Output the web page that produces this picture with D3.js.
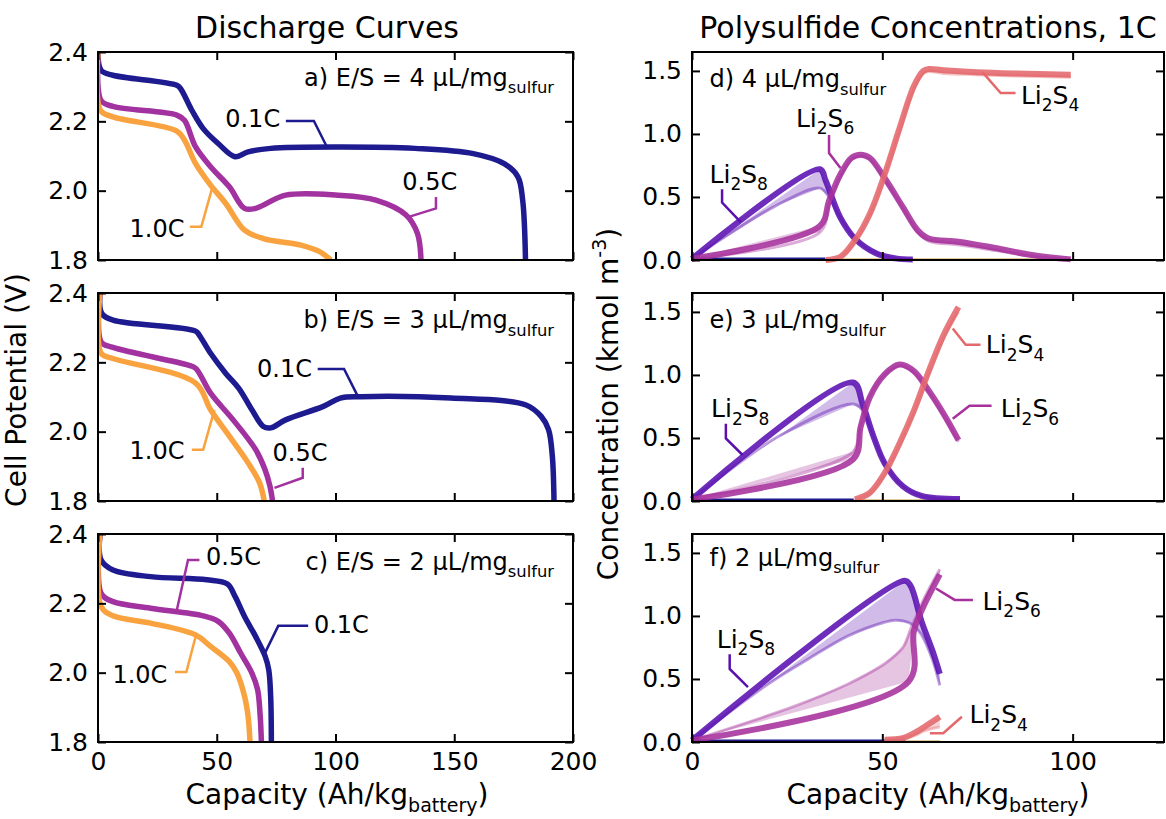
<!DOCTYPE html>
<html>
<head>
<meta charset="utf-8">
<script src="https://cdn.jsdelivr.net/npm/d3@7"></script>
<style>
  body { margin: 0; background: #fff; }
  svg text { font-family: "DejaVu Sans", sans-serif; fill: #000; }
</style>
</head>
<body>
<div id="chart"></div>
<script>
// ---------- discharge curves: [capacity (Ah/kg), potential (V)] ----------
const rates = ["0.1C", "0.5C", "1.0C"];

const es4_01C = [[0,2.40],[1.3,2.347],[6.3,2.333],[33.2,2.304],[34.8,2.294],[39.5,2.232],[44.3,2.179],[50.6,2.136],[57.7,2.098],[63.2,2.112],[72.7,2.122],[101,2.126],[133.5,2.122],[158,2.107],[171,2.078],[176.8,2.04],[178.8,1.973],[180,1.80]];
const es4_05C = [[0,2.395],[1.3,2.26],[6.3,2.243],[33.2,2.218],[36.4,2.203],[41.1,2.126],[47.4,2.069],[55.3,2.011],[61.7,1.949],[66.4,1.949],[79,1.987],[101,1.987],[117,1.973],[129.7,1.93],[134.5,1.877],[136,1.80]];
const es4_10C = [[0,2.40],[1,2.232],[6.3,2.213],[33.2,2.172],[36.4,2.146],[41.1,2.078],[47.4,2.016],[53.8,1.963],[61.7,1.886],[69.6,1.862],[85.4,1.843],[93.3,1.824],[98,1.80]];

const es3_01C = [[0.8,2.40],[1.6,2.341],[6.3,2.322],[41.1,2.29],[42.7,2.278],[47.4,2.226],[53.8,2.168],[59.3,2.125],[64.8,2.063],[69.6,2.015],[72.7,2.011],[79,2.034],[94.9,2.073],[102,2.097],[110.7,2.101],[148.6,2.097],[180.2,2.077],[186.6,2.044],[189.7,2.006],[191.3,1.929],[192,1.80]];
const es3_05C = [[0.8,2.40],[1.3,2.259],[6.3,2.243],[38,2.192],[41.1,2.183],[47.4,2.111],[56.9,2.034],[66.4,1.948],[70.3,1.891],[72.4,1.843],[73.5,1.80]];
const es3_10C = [[0.8,2.40],[1.3,2.226],[6.3,2.211],[41.1,2.14],[47.4,2.063],[55.3,1.987],[63.2,1.91],[68,1.853],[70,1.80]];

const es2_01C = [[0.8,2.40],[1.3,2.325],[6.3,2.296],[22.1,2.277],[45.8,2.268],[54.5,2.256],[57.7,2.22],[61.7,2.162],[66.4,2.104],[70.4,2.047],[71.9,2.008],[72.7,1.932],[73,1.80]];
const es2_05C = [[0.8,2.40],[1.3,2.229],[6.3,2.205],[22.1,2.186],[44.3,2.164],[50.6,2.148],[55.3,2.114],[60.1,2.056],[64.8,1.999],[67.2,1.951],[68.3,1.874],[68.8,1.80]];
const es2_10C = [[0.8,2.40],[1.3,2.191],[6.3,2.164],[22.1,2.143],[41.1,2.109],[47.4,2.076],[55.3,2.032],[58.5,1.999],[61.7,1.932],[63.2,1.874],[64,1.80]];

// curve labels with leader lines, in data units
const es4_labels = [
  {t: "0.1C", x: 76.7, y: 2.184, a: "end", s: 0, lead: [[79.1,2.201],[90.9,2.201],[96.4,2.126]]},
  {t: "0.5C", x: 128.1, y: 2.002, a: "start", s: 1, lead: [[142.3,1.982],[142.3,1.949],[131.2,1.925]]},
  {t: "1.0C", x: 36.4, y: 1.867, a: "end", s: 2, lead: [[38.7,1.896],[43.5,1.896],[48.2,2.011]]}
];
const es3_labels = [
  {t: "0.1C", x: 90.1, y: 2.159, a: "end", s: 0, lead: [[92.5,2.181],[103.6,2.181],[109.1,2.106]]},
  {t: "0.5C", x: 73.5, y: 1.915, a: "start", s: 1, lead: [[86.2,1.896],[86.2,1.867],[74.3,1.838]]},
  {t: "1.0C", x: 36.4, y: 1.92, a: "end", s: 2, lead: [[39.5,1.948],[44.3,1.948],[49,2.063]]}
];
const es2_labels = [
  {t: "0.5C", x: 45.5, y: 2.311, a: "start", s: 1, lead: [[42.7,2.325],[37.9,2.325],[33.2,2.181]]},
  {t: "0.1C", x: 90.9, y: 2.114, a: "start", s: 0, lead: [[88.5,2.135],[75.9,2.135],[69.6,2.047]]},
  {t: "1.0C", x: 29.2, y: 1.97, a: "end", s: 2, lead: [[32.4,2.002],[37.2,2.002],[41.1,2.104]]}
];

// ---------- polysulfide concentrations at 1C: [capacity, kmol/m3] ----------
// each species is a bundle of curves: edge A (dense) and edge B (faint) of the bundle
const species = ["Li_{2}S_{8}", "Li_{2}S_{6}", "Li_{2}S_{4}"];

const c4_S8a = [[0,0.01],[33.6,0.72],[35.1,0.63],[38.9,0.34],[42.8,0.17],[48.6,0.05],[53.5,0.013],[58,0.003]];
const c4_S8b = [[0,0.01],[22,0.43],[33.6,0.57],[36,0.5],[38.9,0.34],[42.8,0.17],[48.6,0.05],[53.5,0.013],[58,0.003]];
const c4_S6a = [[0,0.01],[33.6,0.27],[36,0.47],[39,0.68],[41.9,0.81],[44.3,0.835],[46.7,0.81],[50.6,0.65],[55.4,0.42],[59.3,0.235],[62.2,0.17],[70,0.145],[79.7,0.095],[89.3,0.04],[99.5,0.005]];
const c4_S6b = [[0,0.01],[33.6,0.22],[36,0.44],[39,0.66],[41.9,0.8],[44.3,0.825],[46.7,0.8],[50.6,0.64],[55.4,0.41],[59.3,0.22],[62.2,0.15],[70,0.12],[79.7,0.075],[89.3,0.03],[99.5,0.005]];
const c4_S4a = [[35.1,0.0],[39,0.026],[42.8,0.157],[46.7,0.365],[50.6,0.678],[54.5,1.043],[58.3,1.38],[60.8,1.5],[62.2,1.515],[66.1,1.505],[74.8,1.49],[84.5,1.48],[99.5,1.47]];
const c4_S4b = [[35.1,0.0],[39,0.02],[42.8,0.145],[46.7,0.35],[50.6,0.66],[54.5,1.02],[58.3,1.36],[60.8,1.48],[62.2,1.495],[66.1,1.48],[74.8,1.47],[84.5,1.46],[99.5,1.45]];
const c4_S8dis = [[0,0.01],[35,0.01]];
const c4_Li2S = [[35,0.003],[99.5,0.003]];

const c3_S8a = [[0,0.013],[42.3,0.94],[44.8,0.77],[47.7,0.51],[50.6,0.30],[55.4,0.117],[60.3,0.04],[70.4,0.015]];
const c3_S8b = [[0,0.013],[22,0.5],[42.3,0.77],[44.8,0.72],[47.7,0.51],[50.6,0.30],[55.4,0.117],[60.3,0.04],[70.4,0.015]];
const c3_S6a = [[0,0.013],[42.3,0.33],[44.3,0.587],[46.7,0.822],[50.6,1.004],[54.5,1.082],[58.3,1.03],[62.2,0.874],[66.1,0.691],[70,0.483]];
const c3_S6b = [[0,0.013],[42.3,0.39],[44.3,0.6],[46.7,0.83],[50.6,1.0],[54.5,1.075],[58.3,1.02],[62.2,0.865],[66.1,0.68],[70,0.47]];
const c3_S4a = [[42.8,0.013],[46.7,0.065],[50.6,0.222],[54.5,0.456],[58.3,0.717],[62.2,1.03],[66.1,1.317],[70,1.539]];
const c3_S4b = [[42.8,0.013],[46.7,0.06],[50.6,0.21],[54.5,0.44],[58.3,0.7],[62.2,1.01],[66.1,1.29],[70,1.5]];
const c3_S8dis = [[0,0.01],[42.5,0.01]];
const c3_Li2S = [[42.5,0.003],[70,0.003]];

const c2_S8a = [[0,0.013],[55.9,1.28],[57.4,1.24],[60.3,0.957],[63.2,0.722],[65.1,0.54]];
const c2_S8b = [[0,0.013],[20,0.46],[31.2,0.67],[40.9,0.84],[50.6,0.95],[53.5,0.965],[57.4,0.94],[60.3,0.85],[63.2,0.65],[65.1,0.45]];
const c2_S6a = [[0,0.013],[56.9,0.48],[58.3,0.88],[61.2,1.1],[65.1,1.33]];
const c2_S6b = [[0,0.013],[26.6,0.28],[41,0.46],[50.6,0.62],[55.4,0.75],[57.5,0.9],[61.2,1.15],[65.1,1.37]];
const c2_S4a = [[50.6,0.018],[55.4,0.031],[58.3,0.07],[61.2,0.123],[65.1,0.2]];
const c2_S4b = [[50.6,0.018],[58.3,0.05],[61.2,0.09],[65.1,0.12]];
const c2_S8dis = [[0,0.01],[56,0.01]];
const c2_Li2S = [[50,0.003],[65.1,0.003]];

const c4_labels = [
  {t: species[0], x: 4.6, y: 0.613, s: 0, lead: [[7.9,0.561],[7.9,0.456],[12.8,0.3]]},
  {t: species[1], x: 27.3, y: 1.056, s: 1, lead: [[36,0.991],[36,0.848],[39,0.73]]},
  {t: species[2], x: 86.4, y: 1.239, s: 2, lead: [[85,1.325],[81.1,1.325],[76.3,1.49]]}
];
const c3_labels = [
  {t: species[0], x: 5, y: 0.665, s: 0, lead: [[8.9,0.613],[8.9,0.496],[13.3,0.365]]},
  {t: species[2], x: 77.2, y: 1.174, s: 2, lead: [[75.8,1.239],[71.9,1.239],[68.5,1.369]]},
  {t: species[1], x: 81.1, y: 0.665, s: 1, lead: [[78.7,0.756],[72.9,0.756],[68.5,0.652]]}
];
const c2_labels = [
  {t: species[0], x: 6.5, y: 0.749, s: 0, lead: [[9.9,0.696],[9.9,0.579],[14.7,0.436]]},
  {t: species[1], x: 76.3, y: 1.049, s: 1, lead: [[73.8,1.127],[69,1.127],[64.1,1.218]]},
  {t: species[2], x: 72.9, y: 0.149, s: 2, lead: [[70.9,0.2],[66,0.07],[62.5,0.07]]}
];

// axis ticks and panel captions
const potentialTicks = [1.8, 2.0, 2.2, 2.4];
const capacityTicksLeft = [0, 50, 100, 150, 200];
const concTicks = [0.0, 0.5, 1.0, 1.5];
const capacityTicksRight = [0, 50, 100];
const leftCaptions = ["a) E/S = 4 μL/mg_{sulfur}", "b) E/S = 3 μL/mg_{sulfur}", "c) E/S = 2 μL/mg_{sulfur}"];
const rightCaptions = ["d) 4 μL/mg_{sulfur}", "e) 3 μL/mg_{sulfur}", "f) 2 μL/mg_{sulfur}"];

// ---------- layout ----------
const W = 1166, H = 819;
const rateColors = ["#1d1b8f", "#a1329f", "#f9a340"];
const specColors = ["#5a10b0", "#a6309c", "#e4686c"];
const panelTops = [52, 293, 534];
const panelH = 208;
const L = {x0: 98, x1: 573}, R = {x0: 692, x1: 1164};

const svg = d3.select("#chart").append("svg").attr("width", W).attr("height", H);

// text with _{sub} and ^{sup} parts
function richText(g, x, y, str, size, anchor) {
  const t = g.append("text").attr("x", x).attr("y", y)
    .attr("font-size", size).attr("text-anchor", anchor || "start");
  const parts = str.split(/([_^]\{[^}]*\})/).filter(s => s.length);
  let shift = 0;
  parts.forEach(p => {
    let kind = null, s = p;
    if (p[0] === "_" && p[1] === "{") { kind = "sub"; s = p.slice(2, -1); }
    if (p[0] === "^" && p[1] === "{") { kind = "sup"; s = p.slice(2, -1); }
    const target = kind === "sub" ? size * 0.3 : kind === "sup" ? -size * 0.42 : 0;
    const ts = t.append("tspan").text(s).attr("dy", target - shift);
    if (kind) ts.attr("font-size", size * 0.68);
    shift = target;
  });
  return t;
}

function drawFrame(g, x, y, xTicks, yTicks, showX, yFmt) {
  const top = y.range()[1], bot = y.range()[0];
  const left = x.range()[0], right = x.range()[1];
  const ax = (gen, tr, labels) => {
    const a = g.append("g").attr("transform", tr).call(gen);
    a.select(".domain").remove();
    a.selectAll("line").attr("stroke", "#000").attr("stroke-width", 2);
    a.selectAll("text").attr("font-size", 25).attr("fill", "#000")
      .attr("font-family", "DejaVu Sans, sans-serif");
    if (!labels) a.selectAll("text").remove();
    return a;
  };
  ax(d3.axisBottom(x).tickValues(xTicks).tickSizeInner(-8).tickSizeOuter(0).tickPadding(10).tickFormat(d3.format("d")), `translate(0,${bot})`, showX);
  ax(d3.axisTop(x).tickValues(xTicks).tickSizeInner(-8).tickSizeOuter(0), `translate(0,${top})`, false);
  ax(d3.axisLeft(y).tickValues(yTicks).tickSizeInner(-8).tickSizeOuter(0).tickPadding(10).tickFormat(d3.format(yFmt)), `translate(${left},0)`, true);
  ax(d3.axisRight(y).tickValues(yTicks).tickSizeInner(-8).tickSizeOuter(0), `translate(${right},0)`, false);
  g.append("rect").attr("x", left).attr("y", top).attr("width", right - left).attr("height", bot - top)
    .attr("fill", "none").attr("stroke", "#000").attr("stroke-width", 2);
}

// ---------- left: discharge curves ----------
const leftSets = [
  {curves: [es4_01C, es4_05C, es4_10C], labels: es4_labels},
  {curves: [es3_01C, es3_05C, es3_10C], labels: es3_labels},
  {curves: [es2_01C, es2_05C, es2_10C], labels: es2_labels}
];

leftSets.forEach((set, i) => {
  const top = panelTops[i];
  const x = d3.scaleLinear().domain([0, 200]).range([L.x0, L.x1]);
  const y = d3.scaleLinear().domain([1.8, 2.4]).range([top + panelH, top]);
  const g = svg.append("g");
  const clipId = "clipL" + i;
  g.append("clipPath").attr("id", clipId).append("rect")
    .attr("x", L.x0).attr("y", top).attr("width", L.x1 - L.x0).attr("height", panelH);
  const line = d3.line().x(d => x(d[0])).y(d => y(d[1])).curve(d3.curveCatmullRom.alpha(0.5));
  const plot = g.append("g").attr("clip-path", `url(#${clipId})`);
  set.curves.forEach((c, k) => {
    plot.append("path").datum(c).attr("d", line)
      .attr("fill", "none").attr("stroke", rateColors[k]).attr("stroke-width", 5.5)
      .attr("stroke-linejoin", "round");
  });
  set.labels.forEach(lb => {
    g.append("path").datum(lb.lead).attr("d", d3.line().x(d => x(d[0])).y(d => y(d[1])))
      .attr("fill", "none").attr("stroke", rateColors[lb.s]).attr("stroke-width", 2.5);
    richText(g, x(lb.x), y(lb.y), lb.t, 24, lb.a);
  });
  richText(g, x(192), y([2.302, 2.298, 2.296][i]), leftCaptions[i], 24, "end");
  drawFrame(g, x, y, capacityTicksLeft, potentialTicks, i === 2, ".1f");
});

// ---------- right: polysulfide concentrations ----------
const rightSets = [
  {bundles: [[c4_S8a, c4_S8b], [c4_S6a, c4_S6b], [c4_S4a, c4_S4b]], dis: c4_S8dis, li2s: c4_Li2S, labels: c4_labels, capY: 1.369},
  {bundles: [[c3_S8a, c3_S8b], [c3_S6a, c3_S6b], [c3_S4a, c3_S4b]], dis: c3_S8dis, li2s: c3_Li2S, labels: c3_labels, capY: 1.369},
  {bundles: [[c2_S8a, c2_S8b], [c2_S6a, c2_S6b], [c2_S4a, c2_S4b]], dis: c2_S8dis, li2s: c2_Li2S, labels: c2_labels, capY: 1.40}
];

rightSets.forEach((set, i) => {
  const top = panelTops[i];
  const x = d3.scaleLinear().domain([0, 124]).range([R.x0, R.x1]);
  const y = d3.scaleLinear().domain([0, 1.65]).range([top + panelH, top]);
  const g = svg.append("g");
  const line = d3.line().x(d => x(d[0])).y(d => y(d[1])).curve(d3.curveCatmullRom.alpha(0.5));
  g.append("path").datum(set.dis).attr("d", line).attr("fill", "none")
    .attr("stroke", "#1d1b8f").attr("stroke-width", 2.5);
  g.append("path").datum(set.li2s).attr("d", line).attr("fill", "none")
    .attr("stroke", "#c8963a").attr("stroke-width", 2);
  set.bundles.forEach((b, k) => {
    const [a, bb] = b;
    // faint fan between the two edges of the bundle
    const poly = a.concat(bb.slice().reverse());
    g.append("path").datum(poly)
      .attr("d", d3.line().x(d => x(d[0])).y(d => y(d[1])).curve(d3.curveLinearClosed))
      .attr("fill", specColors[k]).attr("fill-opacity", 0.28).attr("stroke", "none");
    g.append("path").datum(bb).attr("d", line).attr("fill", "none")
      .attr("stroke", specColors[k]).attr("stroke-width", 3).attr("stroke-opacity", 0.4)
      .attr("stroke-linejoin", "round");
    g.append("path").datum(a).attr("d", line).attr("fill", "none")
      .attr("stroke", specColors[k]).attr("stroke-width", 6).attr("stroke-opacity", 0.88)
      .attr("stroke-linejoin", "round");
  });
  set.labels.forEach(lb => {
    g.append("path").datum(lb.lead).attr("d", d3.line().x(d => x(d[0])).y(d => y(d[1])))
      .attr("fill", "none").attr("stroke", specColors[lb.s]).attr("stroke-width", 2.5);
    richText(g, x(lb.x), y(lb.y), lb.t, 25, "start");
  });
  richText(g, x(4.6), y(set.capY), rightCaptions[i], 24, "start");
  drawFrame(g, x, y, capacityTicksRight, concTicks, i === 2, ".1f");
});

// ---------- titles and axis labels ----------
svg.append("text").attr("x", 327).attr("y", 38).attr("font-size", 30)
  .attr("text-anchor", "middle").text("Discharge Curves");
svg.append("text").attr("x", 928).attr("y", 38).attr("font-size", 30)
  .attr("text-anchor", "middle").text("Polysulfide Concentrations, 1C");

richText(svg, 337, 804, "Capacity (Ah/kg_{battery})", 28, "middle");
richText(svg, 938, 804, "Capacity (Ah/kg_{battery})", 28, "middle");

svg.append("text").attr("transform", "translate(26,390) rotate(-90)")
  .attr("font-size", 28).attr("text-anchor", "middle").text("Cell Potential (V)");
richText(svg.append("g").attr("transform", "translate(618,404) rotate(-90)"), 0, 0,
  "Concentration (kmol m^{-3})", 28, "middle");
</script>
</body>
</html>
